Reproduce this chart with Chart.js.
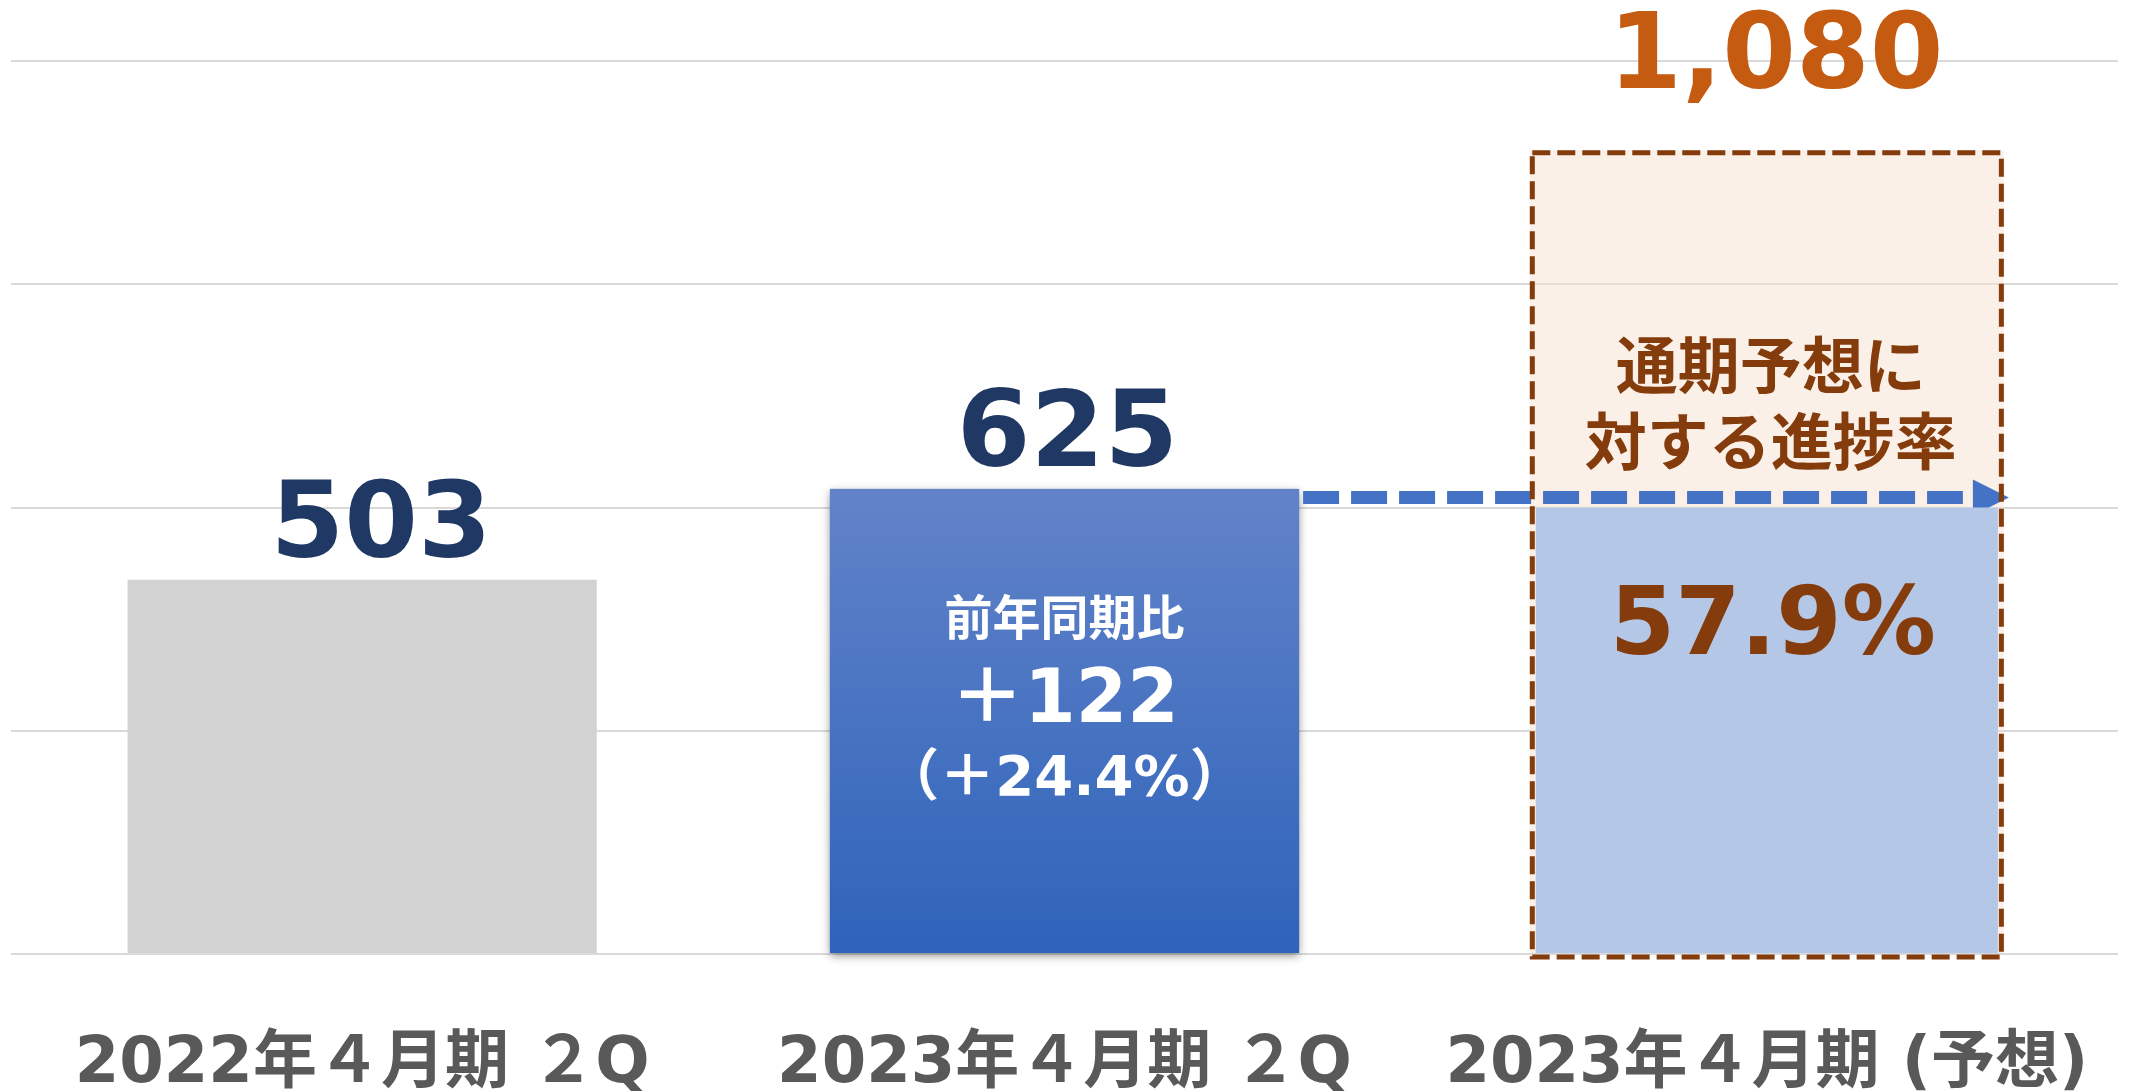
<!DOCTYPE html>
<html lang="ja">
<head>
<meta charset="utf-8">
<title>売上高 進捗</title>
<script src="https://cdn.jsdelivr.net/npm/chart.js@4.4.1/dist/chart.umd.min.js"></script>
<style>
    html, body { margin: 0; padding: 0; background: #FFFFFF; }
    #wrap { width: 2133px; height: 1091px; position: relative; }
</style>
</head>
<body>
<div id="wrap"><canvas id="chart"></canvas></div>
<script>
// データ
const categories = ['2022年４月期 ２Q', '2023年４月期 ２Q', '2023年４月期 (予想)'];
const actualSales = [503, 625, null];
const forecastSales = [null, null, 1080];
const progressFill = [null, null, 600];
const yTicks = [0, 300, 600, 900, 1200];
const yoyLines = ['前年同期比', '＋122', '（＋24.4%）'];
const progressRate = '57.9%';
const noteLines = ['通期予想に', '対する進捗率'];

// 色
const colors = {
    grid: '#D9D9D9',
    prevBar: '#D2D2D2',
    barTop: '#6283C9',
    barBottom: '#2E63BA',
    forecastFill: 'rgba(247, 225, 207, 0.5)',
    progress: '#B4C7E7',
    border: '#843C0C',
    arrow: '#4472C4',
    navy: '#203864',
    orange: '#C55A11',
    brown: '#843C0C',
    axisText: '#595959'
};

const latinJp = '"DejaVu Sans", "Noto Sans CJK JP", sans-serif';
const jp = '"Noto Sans CJK JP", sans-serif';

function drawText(ctx, text, x, y, font, color, baseline) {
    ctx.font = font;
    ctx.fillStyle = color;
    ctx.textAlign = 'center';
    ctx.textBaseline = baseline || 'alphabetic';
    ctx.fillText(text, x, y);
}

const annotatePlugin = {
    id: 'annotate',
    beforeDatasetsDraw(chart) {
        // 2023年の棒の影
        const ctx = chart.ctx;
        const bar = chart.getDatasetMeta(0).data[1];
        ctx.save();
        ctx.shadowColor = 'rgba(0, 0, 0, 0.45)';
        ctx.shadowBlur = 9;
        ctx.shadowOffsetY = 3;
        ctx.fillStyle = colors.barBottom;
        ctx.fillRect(bar.x - bar.width / 2, bar.y, bar.width, bar.base - bar.y);
        ctx.restore();
    },
    beforeDatasetDraw(chart, args) {
        if (args.index !== 1) return;
        // 点線の矢印 (625 の高さから予想の棒へ)
        const ctx = chart.ctx;
        const bar = chart.getDatasetMeta(0).data[1];
        const box = chart.getDatasetMeta(2).data[2];
        const y = chart.scales.y.getPixelForValue(actualSales[1]) + 8.5;
        const x0 = bar.x + bar.width / 2 + 4;
        const tip = box.x + box.width / 2 + 5;
        ctx.save();
        ctx.strokeStyle = colors.arrow;
        ctx.lineWidth = 13;
        ctx.setLineDash([36, 12]);
        ctx.beginPath();
        ctx.moveTo(x0, y);
        ctx.lineTo(tip - 46, y);
        ctx.stroke();
        ctx.setLineDash([]);
        ctx.fillStyle = colors.arrow;
        ctx.beginPath();
        ctx.moveTo(tip - 36, y - 18);
        ctx.lineTo(tip, y);
        ctx.lineTo(tip - 36, y + 18);
        ctx.closePath();
        ctx.fill();
        ctx.restore();
    },
    afterDatasetsDraw(chart) {
        const ctx = chart.ctx;
        const yScale = chart.scales.y;
        const bars = chart.getDatasetMeta(0).data;
        const box = chart.getDatasetMeta(2).data[2];

        // 予想の点線枠
        ctx.save();
        ctx.strokeStyle = colors.border;
        ctx.lineWidth = 5;
        ctx.setLineDash([18, 7]);
        const left = box.x - box.width / 2 + 2.5;
        const top = box.y + 2.5;
        ctx.strokeRect(left, top, box.width - 5, box.base + 4 - top);
        ctx.restore();

        ctx.save();
        // 棒の上の数値
        const shifts = [19, 3];
        bars.forEach((bar, i) => {
            if (actualSales[i] == null) return;
            drawText(ctx, actualSales[i].toLocaleString('en-US'), bar.x + shifts[i], bar.y - 23,
                'bold 106px "DejaVu Sans", sans-serif', colors.navy);
        });
        drawText(ctx, forecastSales[2].toLocaleString('en-US'), box.x + 9, box.y - 62,
            'bold 106px "DejaVu Sans", sans-serif', colors.orange);

        // 前年同期比
        const b2 = bars[1];
        drawText(ctx, yoyLines[0], b2.x, b2.y + 128, 'bold 48px ' + jp, '#FFFFFF', 'middle');
        drawText(ctx, yoyLines[1], b2.x, b2.y + 214, 'bold 74px ' + latinJp, '#FFFFFF', 'middle');
        drawText(ctx, yoyLines[2], b2.x, b2.y + 292, 'bold 56px ' + latinJp, '#FFFFFF', 'middle');

        // 進捗率
        const boxTop = yScale.getPixelForValue(forecastSales[2]);
        drawText(ctx, noteLines[0], box.x + 4, boxTop + 215, 'bold 62px ' + jp, colors.brown, 'middle');
        drawText(ctx, noteLines[1], box.x + 4, boxTop + 291, 'bold 62px ' + jp, colors.brown, 'middle');
        drawText(ctx, progressRate, box.x + 6, yScale.getPixelForValue(progressFill[2]) + 146,
            'bold 94px "DejaVu Sans", sans-serif', colors.brown);
        ctx.restore();
    }
};

new Chart(document.getElementById('chart'), {
    type: 'bar',
    data: {
        labels: categories,
        datasets: [{
            label: '実績',
            data: actualSales,
            order: 0,
            grouped: false,
            categoryPercentage: 1,
            barPercentage: 0.668,
            backgroundColor(c) {
                if (c.dataIndex === 0) return colors.prevBar;
                const area = c.chart.chartArea;
                if (!area || c.raw == null) return colors.barBottom;
                const y = c.chart.scales.y;
                const g = c.chart.ctx.createLinearGradient(0, y.getPixelForValue(c.raw), 0, y.getPixelForValue(0));
                g.addColorStop(0, colors.barTop);
                g.addColorStop(1, colors.barBottom);
                return g;
            },
            borderWidth: 0
        }, {
            label: '進捗',
            data: progressFill,
            order: 1,
            grouped: false,
            categoryPercentage: 1,
            barPercentage: 0.658,
            backgroundColor: colors.progress,
            borderWidth: 0
        }, {
            label: '通期予想',
            data: forecastSales,
            order: 2,
            grouped: false,
            categoryPercentage: 1,
            barPercentage: 0.675,
            backgroundColor: colors.forecastFill,
            borderWidth: 0
        }]
    },
    options: {
        responsive: true,
        maintainAspectRatio: false,
        animation: false,
        events: [],
        layout: {
            padding: { top: 61, left: 11, right: 15, bottom: 0 }
        },
        plugins: {
            legend: { display: false },
            tooltip: { enabled: false }
        },
        scales: {
            x: {
                grid: { display: false },
                border: { display: false },
                ticks: {
                    color: colors.axisText,
                    padding: 71,
                    maxRotation: 0,
                    autoSkip: false,
                    font: { family: latinJp, size: 64, weight: 'bold', lineHeight: 1 }
                },
                afterFit(axis) {
                    axis.height = 137;
                    axis.paddingLeft = 0;
                    axis.paddingRight = 0;
                }
            },
            y: {
                min: 0,
                max: 1200,
                afterBuildTicks(axis) { axis.ticks = yTicks.map(v => ({ value: v })); },
                afterFit(axis) { axis.width = 0; },
                grid: { color: colors.grid, lineWidth: 2, drawTicks: false },
                border: { display: false },
                ticks: { display: false }
            }
        }
    },
    plugins: [annotatePlugin]
});
</script>
</body>
</html>
